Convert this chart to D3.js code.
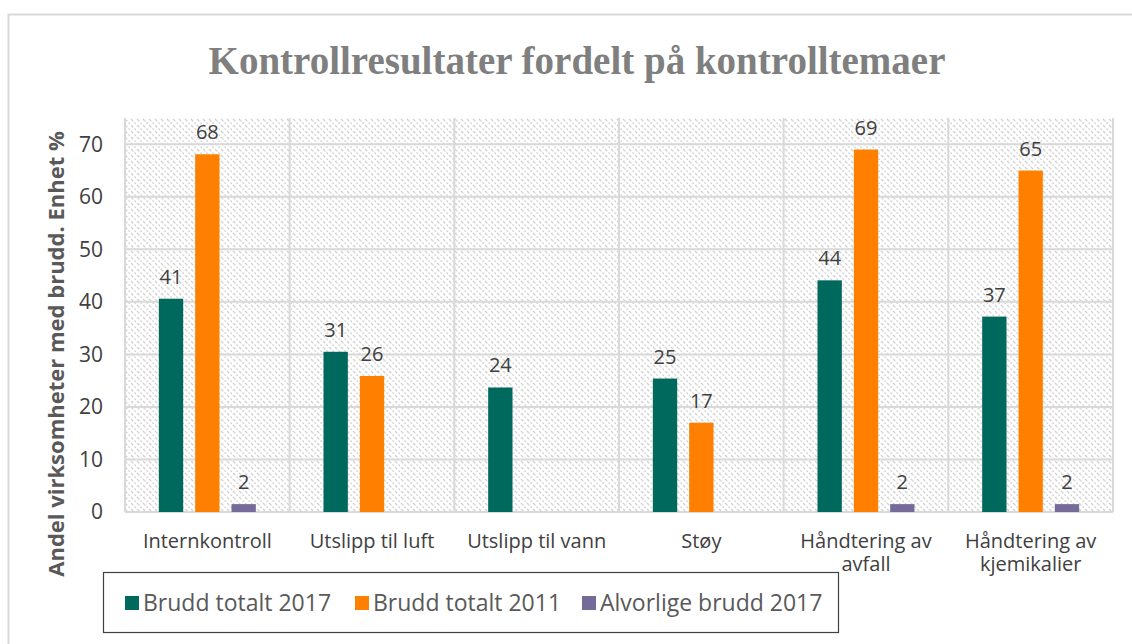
<!DOCTYPE html>
<html lang="no">
<head>
<meta charset="UTF-8">
<title>Kontrollresultater fordelt på kontrolltemaer</title>
<script src="https://d3js.org/d3.v7.min.js"></script>
<style>
  body { margin: 0; background: #fff; font-family: "Open Sans", sans-serif; }
  .grid line { stroke: #d9d9d9; stroke-width: 2; }
  .y.axis path, .y.axis line { display: none; }
  .y.axis text { font-size: 21px; fill: #404040; font-family: "Open Sans", sans-serif; }
</style>
</head>
<body>
<script>
// data
const categories = [
  ["Internkontroll"],
  ["Utslipp til luft"],
  ["Utslipp til vann"],
  ["Støy"],
  ["Håndtering av", "avfall"],
  ["Håndtering av", "kjemikalier"]
];
const seriesNames = ["Brudd totalt 2017", "Brudd totalt 2011", "Alvorlige brudd 2017"];
const brudd2017 = [40.6, 30.5, 23.7, 25.4, 44.1, 37.2];
const brudd2011 = [68.1, 25.9, null, 17.0, 69.0, 65.0];
const alvorlige2017 = [1.5, null, null, null, 1.5, 1.5];
const yTicks = [0, 10, 20, 30, 40, 50, 60, 70];
const colors = ["#00695e", "#ff8000", "#756b98"];

const W = 1132, H = 644;
const plot = {left: 125, right: 1113, top: 118, bottom: 512};

const svg = d3.select("body").append("svg")
  .attr("width", W).attr("height", H);

// hatch pattern for plot background
const defs = svg.append("defs");
const pat = defs.append("pattern")
  .attr("id", "hatch").attr("patternUnits", "userSpaceOnUse")
  .attr("width", 6).attr("height", 6);
pat.append("rect").attr("width", 6).attr("height", 6).attr("fill", "#fff");
pat.append("path").attr("d", "M0,0 L6,6 M-3,3 L3,9 M3,-3 L9,3")
  .attr("stroke", "#d2d2d2").attr("stroke-width", 1.3).attr("stroke-dasharray", "2,1.5");

// chart frame
svg.append("rect").attr("x", 8.5).attr("y", 14.5).attr("width", W).attr("height", H)
  .attr("fill", "none").attr("stroke", "#d9d9d9").attr("stroke-width", 2);

svg.append("text")
  .attr("x", 577).attr("y", 74).attr("text-anchor", "middle")
  .style("font-family", "'Liberation Serif', serif").style("font-weight", "bold")
  .style("font-size", "39px").attr("fill", "#7f7f7f")
  .text("Kontrollresultater fordelt på kontrolltemaer");

const x0 = d3.scaleBand().domain(d3.range(categories.length))
  .range([plot.left, plot.right]);
const x1 = d3.scaleBand().domain(d3.range(seriesNames.length))
  .range([0, 97]).paddingInner(0.33);
const y = d3.scaleLinear().domain([0, 75]).range([plot.bottom, plot.top]);

svg.append("rect")
  .attr("x", plot.left).attr("y", plot.top)
  .attr("width", plot.right - plot.left).attr("height", plot.bottom - plot.top)
  .attr("fill", "url(#hatch)");

const grid = svg.append("g").attr("class", "grid");
grid.selectAll(".h").data(yTicks).enter().append("line")
  .attr("x1", plot.left).attr("x2", plot.right)
  .attr("y1", d => y(d)).attr("y2", d => y(d));
grid.selectAll(".v").data(d3.range(categories.length + 1)).enter().append("line")
  .attr("x1", d => plot.left + d * x0.bandwidth()).attr("x2", d => plot.left + d * x0.bandwidth())
  .attr("y1", plot.top).attr("y2", plot.bottom);

svg.append("g").attr("class", "y axis")
  .attr("transform", `translate(${plot.left - 14},0)`)
  .call(d3.axisLeft(y).tickValues(yTicks).tickSize(0).tickPadding(8));

svg.append("text")
  .attr("transform", `translate(64,354) rotate(-90)`)
  .attr("text-anchor", "middle")
  .style("font-size", "22px").style("font-weight", "bold").attr("fill", "#595959")
  .text("Andel virksomheter med brudd. Enhet %");

// bars
const allSeries = [brudd2017, brudd2011, alvorlige2017];
const rows = [];
allSeries.forEach((vals, s) => vals.forEach((v, c) => {
  if (v != null) rows.push({s, c, v});
}));
const groupOffset = (x0.bandwidth() - 97) / 2;

svg.selectAll(".bar").data(rows).enter().append("rect")
  .attr("x", d => x0(d.c) + groupOffset + x1(d.s))
  .attr("y", d => y(d.v))
  .attr("width", x1.bandwidth())
  .attr("height", d => y(0) - y(d.v))
  .attr("fill", d => colors[d.s]);

svg.selectAll(".lbl").data(rows).enter().append("text")
  .attr("x", d => x0(d.c) + groupOffset + x1(d.s) + x1.bandwidth() / 2)
  .attr("y", d => y(d.v) - 15)
  .attr("text-anchor", "middle")
  .style("font-size", "20px").attr("fill", "#404040")
  .text(d => Math.round(d.v));

// x labels
const xl = svg.selectAll(".xl").data(categories).enter().append("text")
  .attr("x", (d, i) => x0(i) + x0.bandwidth() / 2)
  .attr("y", 548).attr("text-anchor", "middle")
  .style("font-size", "20px").attr("fill", "#404040");
xl.selectAll("tspan").data(d => d).enter().append("tspan")
  .attr("x", function() { return this.parentNode.getAttribute("x"); })
  .attr("dy", (d, i) => i ? 23 : 0)
  .text(d => d);

// legend
const lg = svg.append("g");
lg.append("rect").attr("x", 103.5).attr("y", 572.5).attr("width", 735).attr("height", 60)
  .attr("fill", "#fff").attr("stroke", "#404040").attr("stroke-width", 1.2);
const lx = [125, 355, 582];
const items = lg.selectAll(".li").data(seriesNames).enter().append("g")
  .attr("transform", (d, i) => `translate(${lx[i]},603)`);
items.append("rect").attr("x", 0).attr("y", -7).attr("width", 14).attr("height", 14)
  .attr("fill", (d, i) => colors[i]);
items.append("text").attr("x", 18).attr("y", 8)
  .style("font-size", "23px").attr("fill", "#595959").text(d => d);
</script>
</body>
</html>
